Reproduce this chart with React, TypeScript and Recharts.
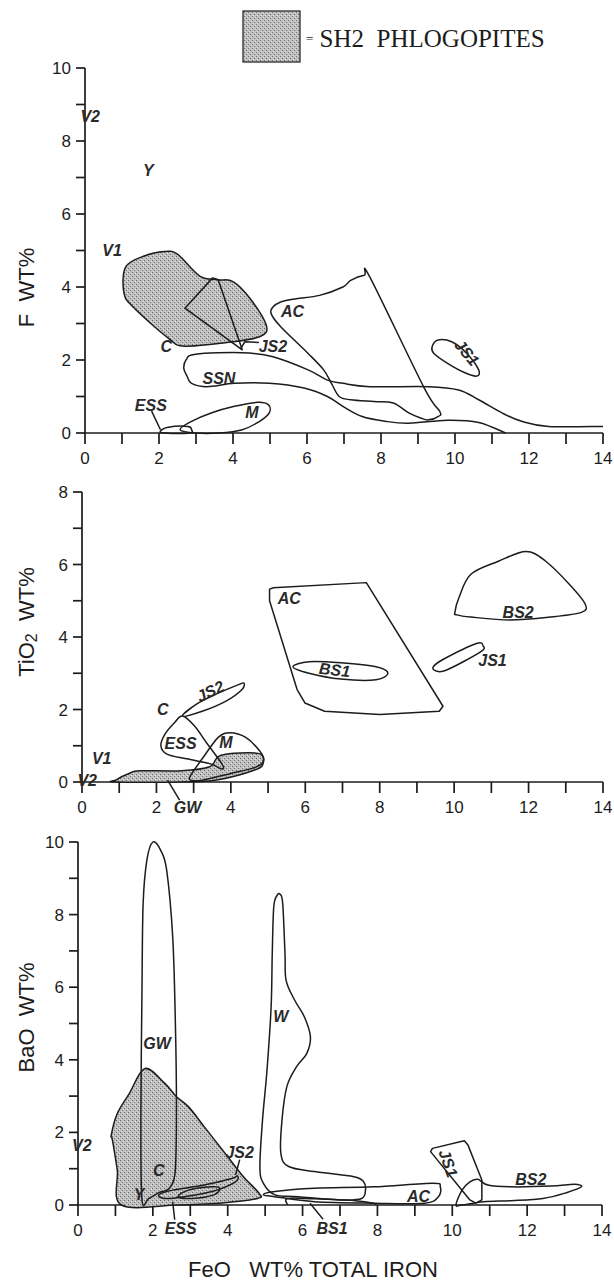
import { ScatterChart, Scatter, XAxis, YAxis, Legend } from "recharts";

type P = { x: number; y: number };
type T = { x: number; y: number; text: string };

const INK = "#1c1c1c";
const SANS = '"Liberation Sans", Arial, sans-serif';

// shared ticks
const xTicks = [0, 1, 2, 3, 4, 5, 6, 7, 8, 9, 10, 11, 12, 13, 14];
const fTicks = [0, 1, 2, 3, 4, 5, 6, 7, 8, 9, 10];
const tiTicks = [0, 1, 2, 3, 4, 5, 6, 7, 8];
const baTicks = [0, 1, 2, 3, 4, 5, 6, 7, 8, 9, 10];

// ---- F vs FeO ----
const fSh2: P[] = [
  { x: 1.1, y: 4.55 }, { x: 1.6, y: 4.85 }, { x: 2.15, y: 4.97 }, { x: 2.5, y: 4.9 },
  { x: 3.1, y: 4.3 }, { x: 3.6, y: 4.2 }, { x: 4.0, y: 4.15 }, { x: 4.45, y: 3.7 },
  { x: 4.9, y: 2.95 }, { x: 4.75, y: 2.65 }, { x: 4.0, y: 2.5 }, { x: 2.7, y: 2.38 },
  { x: 2.25, y: 2.6 }, { x: 1.3, y: 3.45 }, { x: 1.05, y: 3.85 },
];
const fC: P[] = [{ x: 2.7, y: 3.42 }, { x: 3.45, y: 4.25 }, { x: 3.6, y: 4.2 }, { x: 4.25, y: 2.28 }];
const fJs2: P[] = [{ x: 4.2, y: 2.3 }, { x: 4.32, y: 2.5 }, { x: 4.7, y: 2.48 }];
const fSsn: P[] = [
  { x: 14, y: 0.18 }, { x: 12.53, y: 0.18 }, { x: 11.8, y: 0.32 }, { x: 11.27, y: 0.55 },
  { x: 10.64, y: 0.91 }, { x: 10.1, y: 1.18 }, { x: 9.28, y: 1.27 }, { x: 7.7, y: 1.27 },
  { x: 6.97, y: 1.36 }, { x: 6.55, y: 1.45 }, { x: 6.03, y: 1.73 }, { x: 5.08, y: 2.09 },
  { x: 4.25, y: 2.2 }, { x: 2.99, y: 2.16 }, { x: 2.73, y: 2.0 }, { x: 2.67, y: 1.77 },
  { x: 2.76, y: 1.55 }, { x: 2.88, y: 1.36 }, { x: 3.3, y: 1.27 }, { x: 4.04, y: 1.36 },
  { x: 4.98, y: 1.36 }, { x: 5.92, y: 1.23 }, { x: 6.55, y: 1.0 }, { x: 6.97, y: 0.73 },
  { x: 7.49, y: 0.45 }, { x: 8.12, y: 0.32 }, { x: 8.75, y: 0.27 }, { x: 9.8, y: 0.35 },
  { x: 10.64, y: 0.29 }, { x: 11.37, y: 0 },
];
const fAc: P[] = [
  { x: 5.08, y: 3.45 }, { x: 5.03, y: 3.27 }, { x: 5.29, y: 2.91 }, { x: 6.03, y: 2.18 },
  { x: 6.45, y: 1.73 }, { x: 6.66, y: 1.36 }, { x: 6.87, y: 1.0 }, { x: 7.18, y: 0.91 },
  { x: 7.81, y: 0.86 }, { x: 8.33, y: 0.82 }, { x: 8.75, y: 0.55 }, { x: 9.07, y: 0.41 },
  { x: 9.28, y: 0.36 }, { x: 9.54, y: 0.45 }, { x: 9.59, y: 0.59 }, { x: 9.17, y: 1.23 },
  { x: 7.7, y: 4.27 }, { x: 7.55, y: 4.32 }, { x: 7.18, y: 4.18 }, { x: 6.97, y: 4.0 },
  { x: 6.34, y: 3.77 }, { x: 5.71, y: 3.68 }, { x: 5.29, y: 3.59 },
];
const fM: P[] = [
  { x: 2.57, y: 0.09 }, { x: 2.88, y: 0.32 }, { x: 3.41, y: 0.55 }, { x: 4.04, y: 0.73 },
  { x: 4.66, y: 0.84 }, { x: 4.96, y: 0.77 }, { x: 4.98, y: 0.55 }, { x: 4.72, y: 0.32 },
  { x: 4.25, y: 0.09 }, { x: 3.62, y: 0 }, { x: 2.99, y: 0 },
];
const fEss: P[] = [
  { x: 2.04, y: 0.05 }, { x: 2.25, y: 0.16 }, { x: 2.78, y: 0.18 }, { x: 2.88, y: 0.09 },
  { x: 2.83, y: 0 }, { x: 2.15, y: 0 },
];
const fEssLead: P[] = [{ x: 1.8, y: 0.6 }, { x: 2.04, y: 0.09 }];
const fJs1: P[] = [
  { x: 9.38, y: 2.36 }, { x: 9.54, y: 2.55 }, { x: 9.91, y: 2.5 }, { x: 10.32, y: 2.18 },
  { x: 10.64, y: 1.73 }, { x: 10.59, y: 1.56 }, { x: 10.27, y: 1.65 }, { x: 9.8, y: 1.91 },
  { x: 9.43, y: 2.18 },
];
const fTags: T[] = [
  { x: 0.14, y: 8.68, text: "V2" }, { x: 1.71, y: 7.18, text: "Y" }, { x: 0.73, y: 5.0, text: "V1" },
  { x: 5.61, y: 3.32, text: "AC" }, { x: 2.2, y: 2.36, text: "C" }, { x: 5.08, y: 2.36, text: "JS2" },
  { x: 3.62, y: 1.5, text: "SSN" }, { x: 1.78, y: 0.75, text: "ESS" }, { x: 4.51, y: 0.55, text: "M" },
  { x: 10.32, y: 2.2, text: "JS1" },
];

// ---- TiO2 vs FeO ----
const tiSh2: P[] = [
  { x: 0.92, y: 0.06 }, { x: 1.28, y: 0.24 }, { x: 1.55, y: 0.31 }, { x: 2.67, y: 0.31 },
  { x: 3.43, y: 0.42 }, { x: 3.74, y: 0.74 }, { x: 4.73, y: 0.79 }, { x: 4.87, y: 0.52 },
  { x: 4.64, y: 0.33 }, { x: 3.66, y: 0.06 }, { x: 2.93, y: 0.01 }, { x: 0.92, y: 0 },
];
const tiAc: P[] = [
  { x: 5.04, y: 5.32 }, { x: 5.14, y: 5.36 }, { x: 7.64, y: 5.5 }, { x: 9.7, y: 2.09 },
  { x: 9.6, y: 1.95 }, { x: 8.0, y: 1.86 }, { x: 6.52, y: 1.95 }, { x: 5.99, y: 2.18 },
  { x: 5.78, y: 2.55 }, { x: 5.04, y: 5.0 },
];
const tiBs1: P[] = [
  { x: 5.67, y: 3.18 }, { x: 6.1, y: 3.32 }, { x: 6.95, y: 3.29 }, { x: 7.9, y: 3.18 },
  { x: 8.22, y: 3.0 }, { x: 7.9, y: 2.82 }, { x: 6.95, y: 2.84 }, { x: 6.1, y: 3.0 },
];
const tiBs2: P[] = [
  { x: 10.02, y: 4.68 }, { x: 10.13, y: 5.09 }, { x: 10.45, y: 5.73 }, { x: 11.19, y: 6.09 },
  { x: 11.93, y: 6.36 }, { x: 12.46, y: 6.09 }, { x: 13.1, y: 5.45 }, { x: 13.52, y: 4.91 },
  { x: 13.42, y: 4.68 }, { x: 12.57, y: 4.55 }, { x: 11.5, y: 4.47 }, { x: 10.45, y: 4.55 },
  { x: 10.07, y: 4.61 },
];
const tiJs1: P[] = [
  { x: 9.44, y: 3.18 }, { x: 9.7, y: 3.38 }, { x: 10.6, y: 3.82 }, { x: 10.78, y: 3.75 },
  { x: 10.71, y: 3.59 }, { x: 9.8, y: 3.09 }, { x: 9.5, y: 3.07 },
];
const tiJs2: P[] = [
  { x: 2.7, y: 1.82 }, { x: 3.13, y: 2.18 }, { x: 3.66, y: 2.45 }, { x: 4.19, y: 2.68 },
  { x: 4.35, y: 2.73 }, { x: 4.3, y: 2.55 }, { x: 3.87, y: 2.23 }, { x: 3.23, y: 1.95 },
];
const tiEss: P[] = [
  { x: 2.7, y: 1.82 }, { x: 3.02, y: 1.55 }, { x: 3.34, y: 1.09 }, { x: 3.76, y: 0.5 },
  { x: 3.76, y: 0.36 }, { x: 3.45, y: 0.5 }, { x: 2.81, y: 0.64 }, { x: 2.28, y: 0.77 },
  { x: 2.12, y: 1.0 }, { x: 2.23, y: 1.32 }, { x: 2.49, y: 1.64 },
];
const tiM: P[] = [
  { x: 2.92, y: 0.18 }, { x: 3.23, y: 0.64 }, { x: 3.66, y: 1.23 }, { x: 3.98, y: 1.36 },
  { x: 4.4, y: 1.23 }, { x: 4.77, y: 0.86 }, { x: 4.88, y: 0.59 }, { x: 4.67, y: 0.41 },
  { x: 3.98, y: 0.23 }, { x: 3.23, y: 0.05 }, { x: 2.92, y: 0.05 },
];
const tiTags: T[] = [
  { x: 5.57, y: 5.05, text: "AC" }, { x: 11.72, y: 4.68, text: "BS2" }, { x: 6.79, y: 3.09, text: "BS1" },
  { x: 11.03, y: 3.36, text: "JS1" }, { x: 3.45, y: 2.5, text: "JS2" }, { x: 2.17, y: 2.0, text: "C" },
  { x: 2.65, y: 1.05, text: "ESS" }, { x: 3.87, y: 1.09, text: "M" }, { x: 0.53, y: 0.64, text: "V1" },
  { x: 0.14, y: 0.04, text: "V2" },
];
const tiBelow: T[] = [{ x: 2.3, y: 0.05, text: "GW" }];

// ---- BaO vs FeO ----
const baSh2: P[] = [
  { x: 0.89, y: 1.93 }, { x: 1.05, y: 2.52 }, { x: 1.37, y: 3.07 }, { x: 1.79, y: 3.76 },
  { x: 2.32, y: 3.35 }, { x: 2.63, y: 2.98 }, { x: 2.95, y: 2.71 }, { x: 3.37, y: 2.16 },
  { x: 4.0, y: 1.33 }, { x: 4.42, y: 0.78 }, { x: 4.84, y: 0.32 }, { x: 4.79, y: 0.18 },
  { x: 3.79, y: 0.05 }, { x: 2.63, y: 0 }, { x: 1.16, y: 0 }, { x: 1.05, y: 0.96 },
  { x: 0.92, y: 1.79 },
];
const baGw: P[] = [
  { x: 1.71, y: 0.14 }, { x: 1.68, y: 2.34 }, { x: 1.71, y: 6.0 }, { x: 1.74, y: 8.3 },
  { x: 1.84, y: 9.5 }, { x: 2.0, y: 10.0 }, { x: 2.21, y: 9.77 }, { x: 2.37, y: 9.22 },
  { x: 2.53, y: 7.39 }, { x: 2.6, y: 5.09 }, { x: 2.63, y: 2.8 }, { x: 2.6, y: 0.96 },
  { x: 2.47, y: 0.5 }, { x: 2.32, y: 0.39 }, { x: 2.16, y: 0.34 }, { x: 1.89, y: 0.18 },
];
const baW: P[] = [
  { x: 5.26, y: 0.28 }, { x: 4.95, y: 0.6 }, { x: 4.86, y: 1.06 }, { x: 4.93, y: 2.34 },
  { x: 5.05, y: 3.72 }, { x: 5.16, y: 5.46 }, { x: 5.19, y: 6.93 }, { x: 5.23, y: 8.21 },
  { x: 5.32, y: 8.53 }, { x: 5.4, y: 8.56 }, { x: 5.47, y: 8.3 }, { x: 5.53, y: 6.93 },
  { x: 5.56, y: 6.19 }, { x: 5.79, y: 5.64 }, { x: 6.05, y: 5.18 }, { x: 6.21, y: 4.63 },
  { x: 6.11, y: 4.17 }, { x: 5.84, y: 3.81 }, { x: 5.58, y: 3.26 }, { x: 5.45, y: 2.34 },
  { x: 5.42, y: 1.42 }, { x: 5.63, y: 1.06 }, { x: 6.32, y: 0.92 }, { x: 7.37, y: 0.78 },
  { x: 7.63, y: 0.64 }, { x: 7.68, y: 0.41 }, { x: 7.58, y: 0.18 }, { x: 7.05, y: 0.14 },
  { x: 5.89, y: 0.23 },
];
const baAc: P[] = [
  { x: 4.95, y: 0.28 }, { x: 5.26, y: 0.37 }, { x: 6.32, y: 0.46 }, { x: 7.89, y: 0.5 },
  { x: 9.47, y: 0.6 }, { x: 9.68, y: 0.5 }, { x: 9.63, y: 0.23 }, { x: 9.26, y: 0.05 },
  { x: 7.89, y: 0.05 }, { x: 6.32, y: 0.09 }, { x: 5.26, y: 0.23 },
];
const baBs1: P[] = [
  { x: 5.6, y: 0 }, { x: 5.6, y: 0.18 }, { x: 6.3, y: 0.17 }, { x: 7.4, y: 0.12 },
  { x: 7.9, y: 0.05 }, { x: 7.95, y: 0 },
];
const baJs1: P[] = [
  { x: 9.42, y: 1.47 }, { x: 9.47, y: 1.56 }, { x: 10.32, y: 1.77 }, { x: 10.42, y: 1.65 },
  { x: 10.79, y: 0.69 }, { x: 10.79, y: 0.14 }, { x: 10.63, y: 0.05 }, { x: 10.47, y: 0.14 },
];
const baBs2: P[] = [
  { x: 10.1, y: 0.0 }, { x: 10.26, y: 0.41 }, { x: 10.47, y: 0.64 }, { x: 10.68, y: 0.71 },
  { x: 10.95, y: 0.55 }, { x: 11.58, y: 0.5 }, { x: 12.63, y: 0.52 }, { x: 13.26, y: 0.57 },
  { x: 13.45, y: 0.5 }, { x: 13.05, y: 0.34 }, { x: 12.42, y: 0.18 }, { x: 11.58, y: 0.12 },
  { x: 10.84, y: 0.09 }, { x: 10.26, y: 0.0 },
];
const baJs2: P[] = [
  { x: 2.16, y: 0.28 }, { x: 2.53, y: 0.41 }, { x: 3.37, y: 0.55 }, { x: 4.11, y: 0.73 },
  { x: 4.26, y: 0.8 }, { x: 4.21, y: 0.64 }, { x: 3.58, y: 0.37 }, { x: 2.84, y: 0.23 },
  { x: 2.32, y: 0.18 },
];
const baJs2Inner: P[] = [
  { x: 2.68, y: 0.23 }, { x: 2.95, y: 0.41 }, { x: 3.58, y: 0.5 }, { x: 3.79, y: 0.46 },
  { x: 3.63, y: 0.28 }, { x: 3.05, y: 0.18 },
];
const baJs2Lead: P[] = [{ x: 4.32, y: 1.25 }, { x: 4.21, y: 0.83 }];
const baTags: T[] = [
  { x: 2.11, y: 4.45, text: "GW" }, { x: 5.42, y: 5.18, text: "W" }, { x: 2.16, y: 0.96, text: "C" },
  { x: 4.32, y: 1.45, text: "JS2" }, { x: 0.1, y: 1.65, text: "V2" }, { x: 9.1, y: 0.23, text: "AC" },
  { x: 12.1, y: 0.69, text: "BS2" }, { x: 9.89, y: 1.15, text: "JS1" }, { x: 1.63, y: 0.3, text: "Y" },
];
const baBelow: T[] = [
  { x: 2.53, y: 0.09, text: "ESS" },
  { x: 6.2, y: 0.05, text: "BS1" },
];

// label turns and below-axis offsets (px)
const fTurn: Record<string, number> = { JS1: 50 };
const tiTurn: Record<string, number> = { JS2: -25, BS1: 6 };
const baTurn: Record<string, number> = { JS1: 70 };
const belowShift: Record<string, number[]> = {
  GW: [20, 27, 12, 20],
  ESS: [8, 27, 2, 18],
  BS1: [22, 25, 13, 16],
};

type Pix = { x: number; y: number };
function pathOf(pts: Pix[], closed: boolean, smooth: boolean) {
  if (!pts || pts.length < 2) return "";
  const n = pts.length;
  if (!smooth) return "M" + pts.map((p) => `${p.x},${p.y}`).join("L") + (closed ? "Z" : "");
  const at = (i: number) => (closed ? pts[(i + n) % n] : pts[Math.max(0, Math.min(n - 1, i))]);
  let d = `M${pts[0].x},${pts[0].y}`;
  const segs = closed ? n : n - 1;
  for (let i = 0; i < segs; i++) {
    const p0 = at(i - 1), p1 = at(i), p2 = at(i + 1), p3 = at(i + 2);
    const c1x = p1.x + (p2.x - p0.x) / 6, c1y = p1.y + (p2.y - p0.y) / 6;
    const c2x = p2.x - (p3.x - p1.x) / 6, c2y = p2.y - (p3.y - p1.y) / 6;
    d += `C${c1x},${c1y} ${c2x},${c2y} ${p2.x},${p2.y}`;
  }
  return d + (closed ? "Z" : "");
}

const stipple = (id: string) => (
  <pattern id={id} width={4} height={4} patternUnits="userSpaceOnUse">
    <rect width={4} height={4} fill="#bfbfbf" />
    <rect x={0} y={0} width={1} height={1} fill="#676767" />
    <rect x={2} y={2} width={1} height={1} fill="#767676" />
    <rect x={3} y={1} width={1} height={1} fill="#e4e4e4" />
    <rect x={1} y={3} width={1} height={1} fill="#dadada" />
  </pattern>
);

const outline = (closed = true, smooth = true, fillId = "") => (props: any) => (
  <g>
    {fillId ? <defs>{stipple(fillId)}</defs> : null}
    <path
      d={pathOf(props.points, closed, smooth)}
      fill={fillId ? `url(#${fillId})` : "none"}
      stroke={INK}
      strokeWidth={1.5}
      strokeLinejoin="round"
    />
  </g>
);

const noDot = () => <g />;

const tagFont = { fontFamily: SANS, fontSize: 16, fontWeight: 700, fontStyle: "italic", fill: "#2a2a2a" } as const;

const tagShape = (turn: Record<string, number>) => (p: any) => {
  const t = p.payload.text;
  const r = turn[t] ?? 0;
  return (
    <text
      x={p.cx}
      y={p.cy}
      textAnchor="middle"
      dominantBaseline="central"
      transform={r ? `rotate(${r} ${p.cx} ${p.cy})` : undefined}
      style={tagFont}
    >
      {t}
    </text>
  );
};

const belowShape = (p: any) => {
  const t = p.payload.text;
  const [dx, dy, lx, ly] = belowShift[t];
  return (
    <g>
      <line x1={p.cx} y1={p.cy} x2={p.cx + lx} y2={p.cy + ly} stroke={INK} strokeWidth={1.5} />
      <text x={p.cx + dx} y={p.cy + dy} textAnchor="middle" dominantBaseline="central" style={tagFont}>
        {t}
      </text>
    </g>
  );
};

function field(key: string, data: P[], closed = true, smooth = true, fillId = "") {
  return (
    <Scatter
      key={key}
      data={data}
      line={outline(closed, smooth, fillId)}
      shape={noDot}
      legendType="none"
      isAnimationActive={false}
    />
  );
}

const axisStroke = { stroke: INK, strokeWidth: 1.7 };
const tickFont = { fill: INK, fontSize: 17, fontFamily: SANS };
const evenOnly = (v: number) => (v % 2 === 0 ? String(v) : "");

const yTitle = (parts: any, shift: number) => (p: any) => {
  const vb = p.viewBox;
  const cx = 26;
  const cy = vb.y + vb.height / 2 + shift;
  return (
    <text
      transform={`translate(${cx},${cy}) rotate(-90)`}
      textAnchor="middle"
      dominantBaseline="central"
      style={{ fontFamily: SANS, fontSize: 22, fill: INK, whiteSpace: "pre" }}
    >
      {parts}
    </text>
  );
};

const xTitle = (p: any) => {
  const vb = p.viewBox;
  return (
    <text
      x={313}
      y={vb.y + 72}
      textAnchor="middle"
      style={{ fontFamily: SANS, fontSize: 22, fill: INK, whiteSpace: "pre" }}
    >
      FeO   WT% TOTAL IRON
    </text>
  );
};

const Sh2Key = () => (
  <svg width={340} height={56} style={{ display: "block" }}>
    <defs>{stipple("stipKey")}</defs>
    <rect x={1} y={1} width={57} height={51} fill="url(#stipKey)" stroke={INK} strokeWidth={1.2} />
    <text
      x={64}
      y={28}
      dominantBaseline="central"
      style={{ fontFamily: '"Liberation Serif", serif', fontSize: 25, fill: INK, whiteSpace: "pre" }}
    >
      <tspan fontSize={13}>=</tspan> SH2  PHLOGOPITES
    </text>
  </svg>
);

export default function App() {
  return (
    <div style={{ position: "absolute", left: 0, top: 0, width: 614, height: 1284, background: "#fff" }}>
      <div style={{ position: "absolute", left: 0, top: 0 }}>
        <ScatterChart width={614} height={480} margin={{ top: 68, right: 11, bottom: 17, left: 0 }}>
          <XAxis
            type="number"
            dataKey="x"
            domain={[0, 14]}
            ticks={xTicks}
            interval={0}
            tickFormatter={evenOnly}
            axisLine={axisStroke}
            tickLine={axisStroke}
            tick={tickFont}
            tickSize={11}
            tickMargin={8}
          />
          <YAxis
            type="number"
            dataKey="y"
            domain={[0, 10]}
            ticks={fTicks}
            interval={0}
            tickFormatter={evenOnly}
            width={85}
            axisLine={axisStroke}
            tickLine={axisStroke}
            tick={tickFont}
            tickSize={9}
            tickMargin={5}
            label={yTitle("F  WT%", 37)}
          />
          <Legend
            layout="vertical"
            align="center"
            verticalAlign="middle"
            wrapperStyle={{ left: 242, top: 10 }}
            content={() => <Sh2Key />}
          />
          {field("sh2", fSh2, true, true, "stipF")}
          {field("c", fC, true, false)}
          {field("js2", fJs2, false, false)}
          {field("ssn", fSsn, false, true)}
          {field("ac", fAc, true, true)}
          {field("m", fM, true, true)}
          {field("ess", fEss, true, true)}
          {field("essl", fEssLead, false, false)}
          {field("js1", fJs1, true, true)}
          <Scatter data={fTags} shape={tagShape(fTurn)} legendType="none" isAnimationActive={false} />
        </ScatterChart>
      </div>

      <div style={{ position: "absolute", left: 0, top: 470 }}>
        <ScatterChart width={614} height={360} margin={{ top: 22, right: 11, bottom: 18, left: 0 }}>
          <XAxis
            type="number"
            dataKey="x"
            domain={[0, 14]}
            ticks={xTicks}
            interval={0}
            tickFormatter={evenOnly}
            axisLine={axisStroke}
            tickLine={axisStroke}
            tick={tickFont}
            tickSize={11}
            tickMargin={8}
          />
          <YAxis
            type="number"
            dataKey="y"
            domain={[0, 8]}
            ticks={tiTicks}
            interval={0}
            tickFormatter={evenOnly}
            width={82}
            axisLine={axisStroke}
            tickLine={axisStroke}
            tick={tickFont}
            tickSize={9}
            tickMargin={5}
            label={yTitle(
              [
                <tspan key="a">TiO</tspan>,
                <tspan key="b" dy={5} fontSize={16}>2</tspan>,
                <tspan key="c" dy={-5}>  WT%</tspan>,
              ],
              -15
            )}
          />
          {field("sh2", tiSh2, true, true, "stipTi")}
          {field("ac", tiAc, true, false)}
          {field("bs1", tiBs1, true, true)}
          {field("bs2", tiBs2, true, true)}
          {field("js1", tiJs1, true, true)}
          {field("js2", tiJs2, true, true)}
          {field("ess", tiEss, true, true)}
          {field("m", tiM, true, true)}
          <Scatter data={tiTags} shape={tagShape(tiTurn)} legendType="none" isAnimationActive={false} />
          <Scatter data={tiBelow} shape={belowShape} legendType="none" isAnimationActive={false} />
        </ScatterChart>
      </div>

      <div style={{ position: "absolute", left: 0, top: 820 }}>
        <ScatterChart width={614} height={464} margin={{ top: 22, right: 12, bottom: 9, left: 0 }}>
          <XAxis
            type="number"
            dataKey="x"
            domain={[0, 14]}
            ticks={xTicks}
            interval={0}
            tickFormatter={evenOnly}
            axisLine={axisStroke}
            tickLine={axisStroke}
            tick={tickFont}
            tickSize={11}
            tickMargin={8}
            height={70}
            label={xTitle}
          />
          <YAxis
            type="number"
            dataKey="y"
            domain={[0, 10]}
            ticks={baTicks}
            interval={0}
            tickFormatter={evenOnly}
            width={78}
            axisLine={axisStroke}
            tickLine={axisStroke}
            tick={tickFont}
            tickSize={9}
            tickMargin={5}
            label={yTitle("BaO  WT%", -6)}
          />
          {field("sh2", baSh2, true, true, "stipBa")}
          {field("gw", baGw, true, true)}
          {field("w", baW, true, true)}
          {field("ac", baAc, true, true)}
          {field("bs1", baBs1, false, true)}
          {field("js1", baJs1, true, false)}
          {field("bs2", baBs2, true, true)}
          {field("js2", baJs2, true, true)}
          {field("js2b", baJs2Inner, true, true)}
          {field("js2l", baJs2Lead, false, false)}
          <Scatter data={baTags} shape={tagShape(baTurn)} legendType="none" isAnimationActive={false} />
          <Scatter data={baBelow} shape={belowShape} legendType="none" isAnimationActive={false} />
        </ScatterChart>
      </div>
    </div>
  );
}
